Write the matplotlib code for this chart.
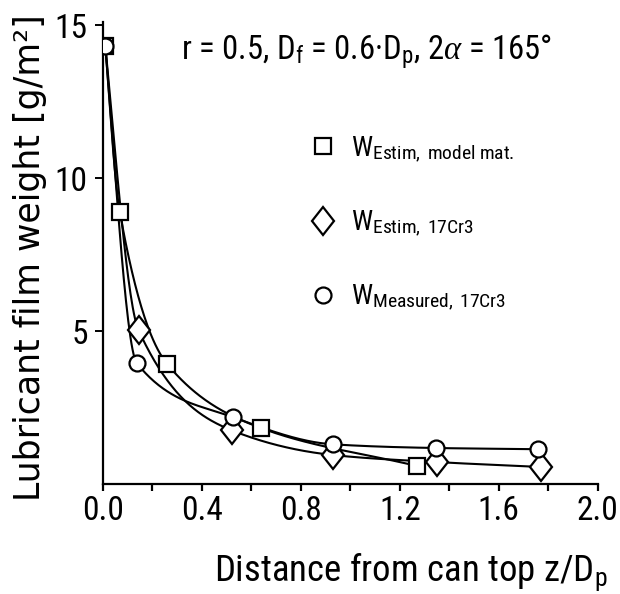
import numpy as np
import matplotlib
matplotlib.use("Agg")
import matplotlib.pyplot as plt
from matplotlib import font_manager
from matplotlib.markers import MarkerStyle
from matplotlib.transforms import Affine2D

# values
sq_x = [0.01, 0.068, 0.26, 0.64, 1.27]
sq_y = [14.3, 8.9, 3.92, 1.83, 0.59]
dm_x = [0.01, 0.144, 0.52, 0.93, 1.35, 1.77]
dm_y = [14.3, 5.03, 1.76, 0.95, 0.72, 0.56]
ci_x = [0.01, 0.137, 0.526, 0.93, 1.345, 1.76]
ci_y = [14.3, 3.95, 2.19, 1.30, 1.18, 1.14]

labels = [r"W$_\mathrm{Estim,\ model\ mat.}$",
          r"W$_\mathrm{Estim,\ 17Cr3}$",
          r"W$_\mathrm{Measured,\ 17Cr3}$"]
xticks = np.arange(0, 2.01, 0.2)
yticks = [5, 10, 15]

# look for a narrow sans face, the scan's lettering is very condensed
narrow_family, narrow_stretch = "DejaVu Sans", "normal"
found = False
for want in ["Liberation Sans Narrow", "Roboto Condensed", "Open Sans Condensed",
             "Noto Sans Condensed", "DejaVu Sans Condensed"]:
    for f in font_manager.fontManager.ttflist:
        if f.name == want and f.style == "normal":
            narrow_family, narrow_stretch, found = f.name, f.stretch, True
            break
    if found:
        break
if not found:
    for pref in ["DejaVu Sans", "Noto Sans", "Roboto", "Open Sans"]:
        for f in font_manager.fontManager.ttflist:
            if (f.name == pref and f.style == "normal" and f.weight in (400, "normal")
                    and "ondensed" in str(f.stretch)):
                narrow_family, narrow_stretch, found = f.name, f.stretch, True
                break
        if found:
            break
scale = 1.0 if found else 0.82

plt.rcParams["mathtext.fontset"] = "custom"
plt.rcParams["mathtext.rm"] = f"{narrow_family}:stretch={narrow_stretch}"
plt.rcParams["mathtext.sf"] = f"{narrow_family}:stretch={narrow_stretch}"
plt.rcParams["mathtext.it"] = "Liberation Serif:italic"


def nfont(size):
    return dict(family=narrow_family, stretch=narrow_stretch, size=size * scale)


def pchip(x, y, xs):
    # monotone cubic through the points, only used for the drawn curve
    x = np.asarray(x, float)
    y = np.asarray(y, float)
    h = np.diff(x)
    d = np.diff(y) / h
    m = np.zeros_like(y)
    for k in range(1, len(x) - 1):
        if d[k - 1] * d[k] > 0:
            w1 = 2 * h[k] + h[k - 1]
            w2 = h[k] + 2 * h[k - 1]
            m[k] = (w1 + w2) / (w1 / d[k - 1] + w2 / d[k])
    m[0] = ((2 * h[0] + h[1]) * d[0] - h[0] * d[1]) / (h[0] + h[1])
    if np.sign(m[0]) != np.sign(d[0]):
        m[0] = 0
    m[-1] = d[-1]
    i = np.clip(np.searchsorted(x, xs) - 1, 0, len(h) - 1)
    t = (xs - x[i]) / h[i]
    h00 = 2 * t**3 - 3 * t**2 + 1
    h10 = t**3 - 2 * t**2 + t
    h01 = -2 * t**3 + 3 * t**2
    h11 = t**3 - t**2
    return h00 * y[i] + h10 * h[i] * m[i] + h01 * y[i + 1] + h11 * h[i] * m[i + 1]


fig = plt.figure(figsize=(6.2, 5.94), dpi=100)
ax = fig.add_axes([0.166, 0.185, 0.798, 0.778])

diamond = MarkerStyle("D", transform=Affine2D().scale(0.78, 1.0))
mk = dict(mfc="white", mec="black", mew=1.6, ls="none", zorder=3)

for xs_, ys_ in [(sq_x, sq_y), (dm_x, dm_y), (ci_x, ci_y)]:
    xx = np.linspace(xs_[0], xs_[-1], 400)
    ax.plot(xx, pchip(xs_, ys_, xx), color="black", lw=1.5, zorder=2)

h1, = ax.plot(sq_x, sq_y, marker="s", ms=11, **mk)
h2, = ax.plot(dm_x[1:], dm_y[1:], marker=diamond, ms=14, **mk)
h3, = ax.plot(ci_x, ci_y, marker="o", ms=11.5, **mk)

ax.set_xlim(0, 2.0)
ax.set_ylim(0, 15.1)
ax.set_xticks(xticks)
ax.set_xticklabels([f"{v:.1f}" if i % 2 == 0 else "" for i, v in enumerate(xticks)])
ax.set_yticks(yticks)
ax.set_yticklabels([str(v) for v in yticks])
for s in ["top", "right"]:
    ax.spines[s].set_visible(False)
for s in ["left", "bottom"]:
    ax.spines[s].set_linewidth(1.6)
ax.tick_params(axis="x", direction="out", length=5, width=1.6, pad=3)
ax.tick_params(axis="y", direction="out", length=6, width=1.4, pad=5)
for lab in ax.get_xticklabels() + ax.get_yticklabels():
    lab.set_fontfamily(narrow_family)
    lab.set_fontstretch(narrow_stretch)
    lab.set_fontsize(24 * scale)

ax.set_ylabel("Lubricant film weight [g/m²]", fontsize=25, family="DejaVu Sans")
ax.yaxis.label.set_va("center")
ax.yaxis.set_label_coords(-0.148, 0.49)

ax.set_xlabel(r"Distance from can top z/D$_\mathrm{p}$", **nfont(26.5))
ax.xaxis.label.set_ha("right")
ax.xaxis.label.set_va("center")
ax.xaxis.set_label_coords(1.02, -0.19)

fig.text(181 / 620, 1 - 52 / 594, r"r = 0.5, D$_\mathrm{f}$ = 0.6·D$_\mathrm{p}$, 2$\alpha$ = 165°",
         ha="left", va="center", **nfont(23.5))

ax.legend([h1, h2, h3], labels, loc="upper left", bbox_to_anchor=(0.42, 0.757),
          frameon=False, prop=dict(family=narrow_family, stretch=narrow_stretch, size=20),
          handlelength=0.9, handletextpad=0.55, labelspacing=1.58,
          borderpad=0, borderaxespad=0)

fig.savefig("out.png", dpi=100)
